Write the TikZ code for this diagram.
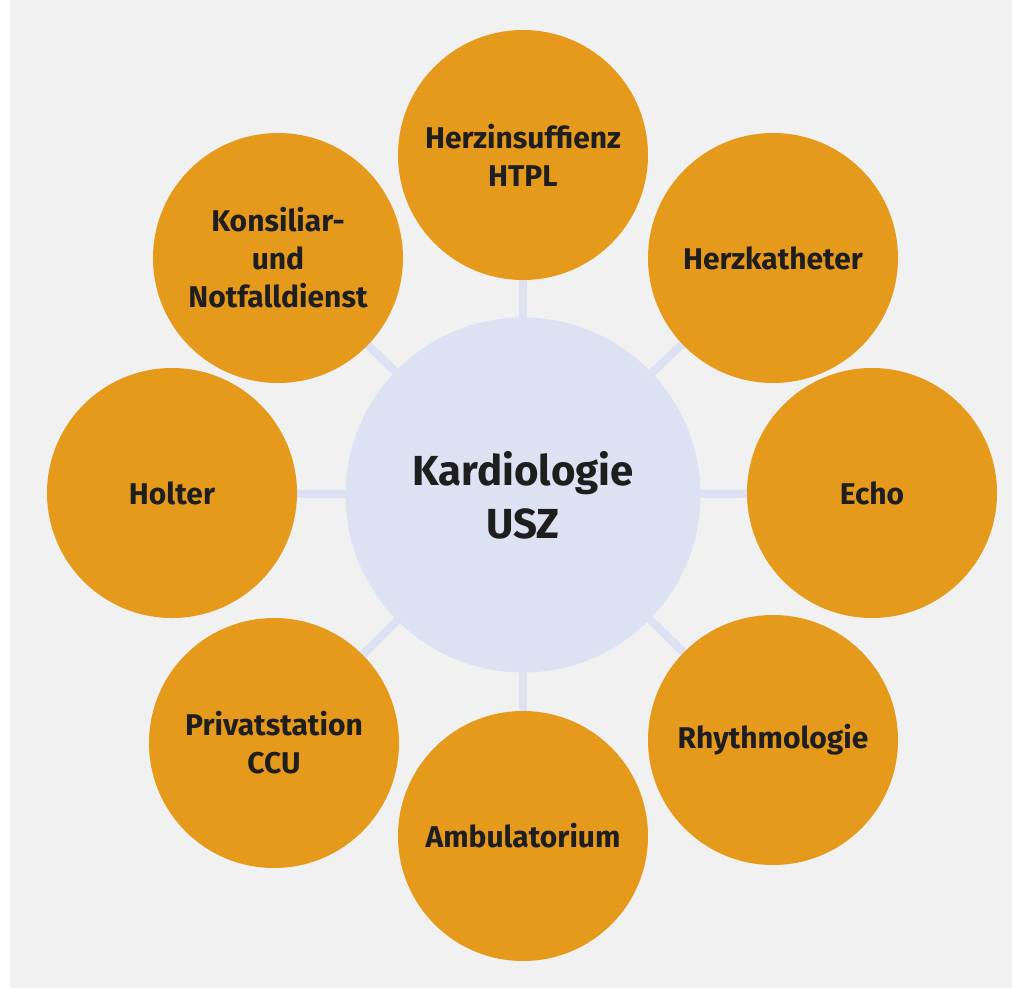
\documentclass[tikz,border=0pt]{standalone}
\usepackage{fontspec}
\setmainfont{Fira Sans}
\usetikzlibrary{backgrounds}

\definecolor{uszorange}{RGB}{229,154,27}
\definecolor{uszblue}{RGB}{221,226,243}
\definecolor{uszgray}{RGB}{241,241,241}
\definecolor{usztext}{RGB}{30,30,30}

\tikzset{
  outer/.style={circle,fill=uszorange,minimum size=250pt,inner sep=0pt,
    align=center,text=usztext,font=\fontsize{30}{38}\selectfont\bfseries},
  hub/.style={circle,fill=uszblue,minimum size=355pt,inner sep=0pt,
    align=center,text=usztext,font=\fontsize{42}{53}\selectfont\bfseries},
  spoke/.style={draw=uszblue,line width=8pt}
}

\begin{document}
\begin{tikzpicture}[x=1pt,y=-1pt]

\useasboundingbox (0,0) rectangle (1012,989);

\node[hub] (usz) at (523,495) {Kardiologie\\USZ};

\node[outer] (herz) at (523,155) {Herzinsuffienz\\HTPL};
\node[outer] (kath) at (773,258) {Herzkatheter};
\node[outer] (echo) at (872,493) {Echo};
\node[outer] (rhyt) at (773,740) {Rhythmologie};
\node[outer] (ambu) at (523,836) {Ambulatorium};
\node[outer] (priv) at (274,743) {Privatstation\\CCU};
\node[outer] (holt) at (172,493) {Holter};
\node[outer] (kons) at (278,258) {Konsiliar-\\und\\Notfalldienst};

\begin{scope}[on background layer]
\fill[uszgray] (10,0) rectangle (1012,988);
\foreach \n in {herz,kath,echo,rhyt,ambu,priv,holt,kons}
  \draw[spoke] (usz.center) -- (\n.center);
\end{scope}

\end{tikzpicture}
\end{document}
